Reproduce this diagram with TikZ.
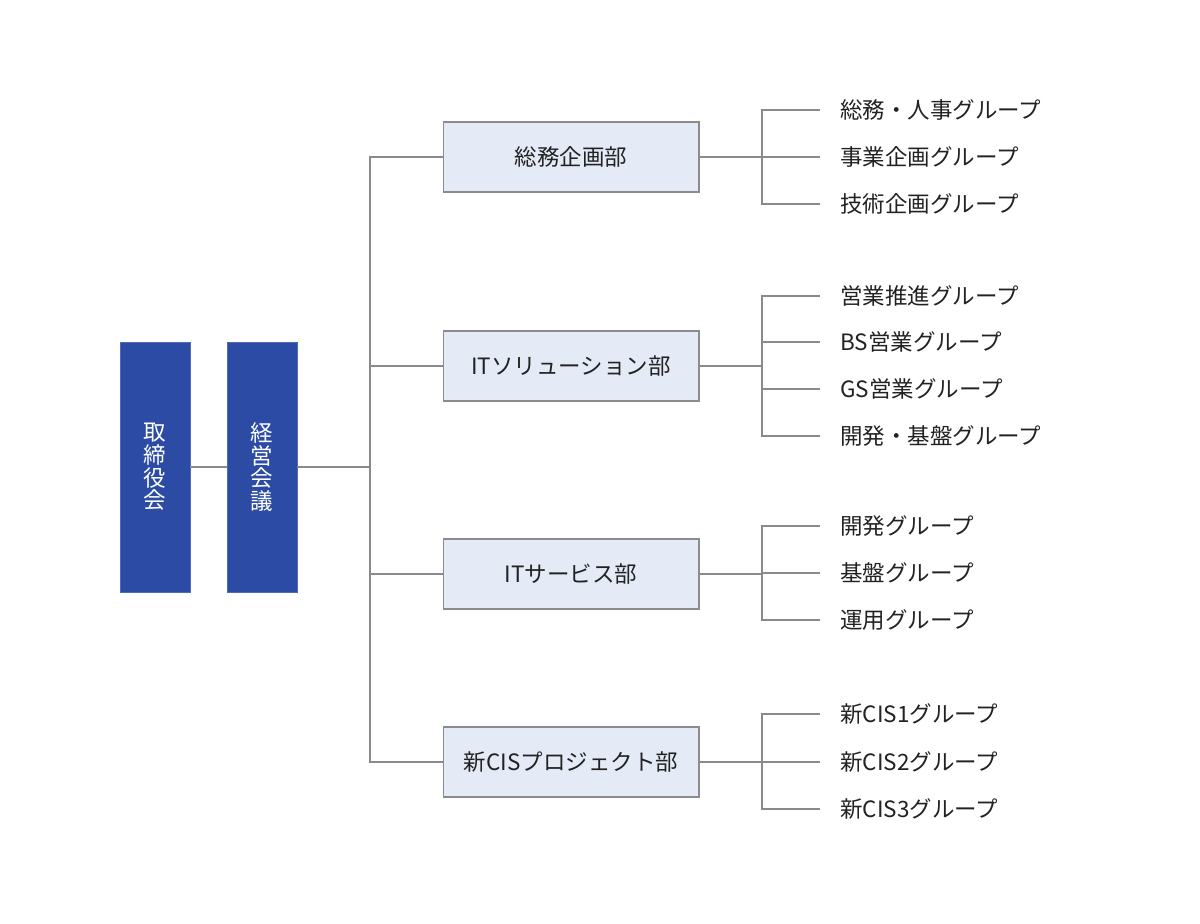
\documentclass[tikz,border=0pt]{standalone}
\usepackage{fontspec}
\setmainfont{Noto Sans CJK JP}
\usetikzlibrary{positioning}

\definecolor{boardblue}{HTML}{2B4BA5}
\definecolor{boardedge}{HTML}{4E6BB8}
\definecolor{deptfill}{HTML}{E4EBF7}
\definecolor{deptedge}{HTML}{8C8C8C}
\definecolor{linegray}{HTML}{8A8A8A}
\definecolor{inkgray}{HTML}{222222}

\tikzset{
  topbox/.style={draw=boardedge, fill=boardblue, text=white, minimum width=1.4cm,
    minimum height=5cm, inner sep=0, align=center, font=\fontsize{12.8}{12.9}\selectfont},
  deptbox/.style={draw=deptedge, line width=0.6pt, fill=deptfill, text=inkgray,
    minimum width=5.12cm, minimum height=1.4cm, font=\fontsize{12.8}{15}\selectfont},
  grouplabel/.style={anchor=west, inner xsep=0.4cm, inner ysep=0, text=inkgray,
    font=\fontsize{12.8}{15}\selectfont},
  link/.style={linegray, line width=0.7pt}
}

\begin{document}
\begin{tikzpicture}[x=0.02cm, y=-0.02cm]
\useasboundingbox (0,0) rectangle (1200,923);

% top of the chart
\node[topbox] (board) at (155,467) {取\\締\\役\\会};
\node[topbox] (mgmt) at (262,467) {経\\営\\会\\議};
\draw[link] (board) -- (mgmt);

% departments
\node[deptbox] (soumu) at (571,157) {総務企画部};
\node[deptbox] (itsol) at (571,366) {ITソリューション部};
\node[deptbox] (itsvc) at (571,574) {ITサービス部};
\node[deptbox] (newcis) at (571,762) {新CISプロジェクト部};

\coordinate (trunk) at (370,467);
\draw[link] (mgmt) -- (trunk);
\draw[link] (soumu.west) -| (370,762) -- (newcis.west);
\draw[link] (itsol.west) -- (370,366);
\draw[link] (itsvc.west) -- (370,574);

% groups
\node[grouplabel] (g11) at (820,110) {総務・人事グループ};
\node[grouplabel] (g12) at (820,157) {事業企画グループ};
\node[grouplabel] (g13) at (820,204) {技術企画グループ};

\node[grouplabel] (g21) at (820,296) {営業推進グループ};
\node[grouplabel] (g22) at (820,342) {BS営業グループ};
\node[grouplabel] (g23) at (820,389) {GS営業グループ};
\node[grouplabel] (g24) at (820,436) {開発・基盤グループ};

\node[grouplabel] (g31) at (820,526) {開発グループ};
\node[grouplabel] (g32) at (820,573) {基盤グループ};
\node[grouplabel] (g33) at (820,620) {運用グループ};

\node[grouplabel] (g41) at (820,714) {新CIS1グループ};
\node[grouplabel] (g42) at (820,762) {新CIS2グループ};
\node[grouplabel] (g43) at (820,809) {新CIS3グループ};

% branches
\draw[link] (soumu.east) -- (762,157);
\draw[link] (g11.west) -- (762,110) -- (762,204) -- (g13.west);
\draw[link] (g12.west) -- (762,157);

\draw[link] (itsol.east) -- (762,366);
\draw[link] (g21.west) -- (762,296) -- (762,436) -- (g24.west);
\foreach \g/\y in {g22/342, g23/389}
  \draw[link] (\g.west) -- (762,\y);

\draw[link] (itsvc.east) -- (762,574);
\draw[link] (g31.west) -- (762,526) -- (762,620) -- (g33.west);
\draw[link] (g32.west) -- (762,573);

\draw[link] (newcis.east) -- (762,762);
\draw[link] (g41.west) -- (762,714) -- (762,809) -- (g43.west);
\draw[link] (g42.west) -- (762,762);

\end{tikzpicture}
\end{document}
